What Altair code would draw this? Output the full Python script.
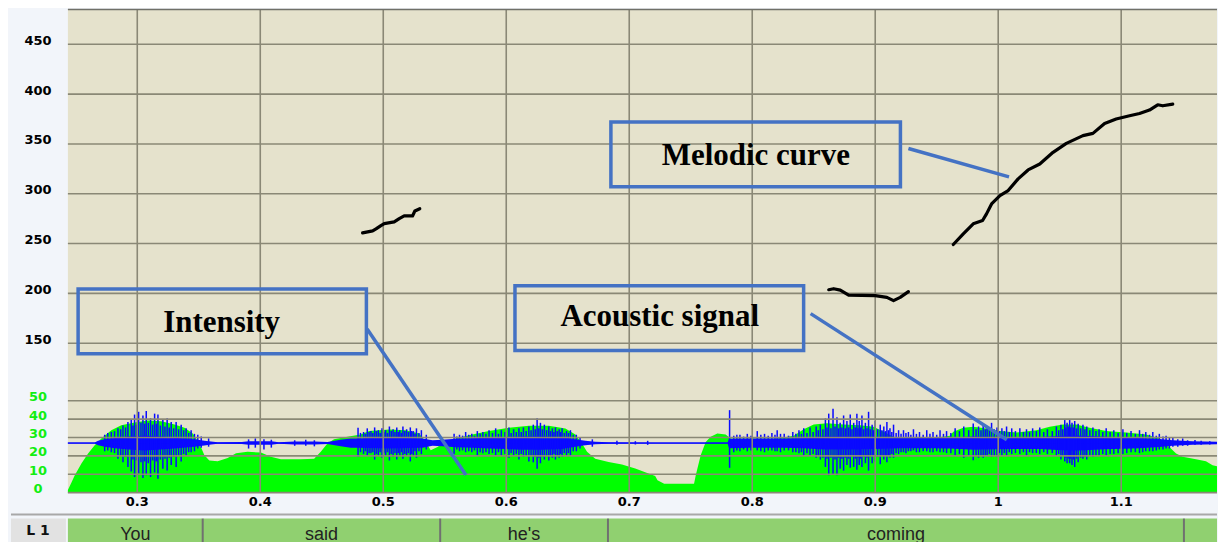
import altair as alt
import pandas as pd

# ---------------- data ----------------
x_ticks = [0.3, 0.4, 0.5, 0.6, 0.7, 0.8, 0.9, 1.0, 1.1]
x_tick_labels = ["0.3", "0.4", "0.5", "0.6", "0.7", "0.8", "0.9", "1", "1.1"]
pitch_ticks = [150, 200, 250, 300, 350, 400, 450]
int_ticks = [0, 10, 20, 30, 40, 50]

# melodic (pitch) curve, three voiced segments (time s, Hz)
pitch1_t = [0.4832, 0.4914, 0.4941, 0.4981, 0.5008, 0.5089, 0.5130, 0.5170, 0.5238, 0.5257, 0.5297]
pitch1_f = [260.7, 262.7, 264.7, 268.0, 270.0, 271.7, 275.0, 277.7, 277.7, 282.7, 285.0]
pitch2_t = [0.8622, 0.8662, 0.8716, 0.8784, 0.9000, 0.9095, 0.9149, 0.9203, 0.9270]
pitch2_f = [203.7, 204.7, 203.3, 198.3, 197.7, 196.0, 192.7, 196.0, 201.7]
pitch3_t = [0.9635, 0.9716, 0.9797, 0.9873, 0.9905, 0.9946, 1.0014, 1.0081, 1.0162, 1.0243, 1.0338,
            1.0446, 1.0554, 1.0689, 1.0770, 1.0865, 1.0959, 1.1068, 1.1149, 1.1230, 1.1297, 1.1338, 1.1419]
pitch3_f = [249.1, 259.8, 269.8, 273.1, 279.8, 289.8, 298.2, 303.2, 314.9, 323.9, 329.9,
            341.6, 350.6, 358.3, 360.6, 370.6, 375.0, 378.3, 380.6, 384.0, 389.3, 388.3, 390.0]

# intensity curve (time s, dB)
intensity_t = [0.2436, 0.2465, 0.2492, 0.2546, 0.2600, 0.2654, 0.2708, 0.2789, 0.2870, 0.2978,
               0.3086, 0.3195, 0.3303, 0.3384, 0.3451, 0.3505, 0.3546, 0.3586, 0.3654, 0.3735,
               0.3803, 0.3897, 0.4005, 0.4086, 0.4168, 0.4330, 0.4438, 0.4492, 0.4546, 0.4600,
               0.4708, 0.4816, 0.4886, 0.5049, 0.5184, 0.5292, 0.5346, 0.5386, 0.5441, 0.5495,
               0.5589, 0.5724, 0.5859, 0.6022, 0.6184, 0.6346, 0.6481, 0.6562, 0.6616, 0.6657,
               0.6724, 0.6832, 0.6941, 0.7049, 0.7157, 0.7211, 0.7230, 0.7284, 0.7527, 0.7541,
               0.7581, 0.7622, 0.7662, 0.7716, 0.7784, 0.7824, 0.7986, 0.8203, 0.8338, 0.8419,
               0.8500, 0.8608, 0.8743, 0.8878, 0.8986, 0.9068, 0.9149, 0.9284, 0.9446, 0.9608,
               0.9635, 0.9716, 0.9797, 0.9905, 1.0014, 1.0149, 1.0311, 1.0419, 1.0527, 1.0635,
               1.0743, 1.0878, 1.1041, 1.1203, 1.1311, 1.1392, 1.1446, 1.1500, 1.1608, 1.1689,
               1.1743, 1.1779]
intensity_db = [1.5, 5.5, 9.5, 15.8, 21.3, 25.8, 29.5, 34.0, 36.7, 38.2,
                39.3, 38.9, 37.1, 35.3, 32.2, 26.7, 20.4, 17.5, 17.1, 18.9,
                21.5, 22.2, 21.8, 19.5, 18.2, 18.2, 18.5, 22.2, 26.7, 29.1,
                30.4, 31.6, 33.5, 34.4, 34.0, 32.2, 27.6, 23.1, 24.9, 27.1,
                29.5, 31.6, 33.5, 35.3, 36.4, 36.4, 34.9, 31.6, 26.7, 22.2,
                18.5, 16.7, 15.3, 13.1, 10.4, 9.1, 6.7, 4.9, 4.9, 9.5,
                20.4, 27.6, 30.4, 32.2, 31.6, 29.5, 29.5, 29.5, 30.9, 34.5,
                37.1, 37.8, 37.1, 36.7, 35.8, 33.1, 30.4, 29.1, 29.5, 30.9,
                33.1, 35.3, 35.8, 34.9, 33.5, 32.7, 34.0, 35.8, 37.1, 37.1,
                35.3, 33.5, 32.7, 31.6, 29.5, 24.9, 21.3, 19.5, 18.2, 17.1,
                14.9, 14.4]

# acoustic signal: dense core envelope (drawn on the intensity axis, centred at 27)
signal_centre = 27.0
wave_t = [0.2436, 0.2654, 0.2681, 0.2735, 0.2816, 0.2924, 0.3059, 0.3195, 0.3330, 0.3465,
          0.3546, 0.3600, 0.3654, 0.3850, 0.3905, 0.4090, 0.4150, 0.4280, 0.4440, 0.4546,
          0.4654, 0.4735, 0.4778, 0.5049, 0.5319, 0.5400, 0.5481, 0.5589, 0.5724, 0.5859,
          0.5995, 0.6130, 0.6292, 0.6454, 0.6562, 0.6643, 0.6724, 0.6832, 0.7211, 0.7800,
          0.7811, 0.7986, 0.8257, 0.8419, 0.8581, 0.8797, 0.9014, 0.9203, 0.9473, 0.9608,
          0.9797, 1.0068, 1.0338, 1.0554, 1.0662, 1.0878, 1.1149, 1.1311, 1.1419, 1.1581,
          1.1779]
wave_hi = [27.3, 27.3, 28.2, 29.0, 29.8, 30.5, 31.0, 30.5, 29.8, 29.0,
           28.3, 27.8, 27.4, 27.5, 28.0, 28.0, 27.4, 27.8, 27.8, 27.5,
           28.8, 29.5, 29.5, 30.0, 29.5, 28.5, 28.8, 29.3, 29.6, 30.0,
           30.3, 30.6, 30.6, 30.2, 29.0, 28.2, 27.7, 27.4, 27.3, 27.3,
           29.3, 29.5, 29.5, 29.8, 30.5, 30.5, 30.2, 29.8, 29.8, 30.0,
           30.6, 30.3, 30.3, 31.0, 31.0, 30.4, 29.8, 29.2, 28.5, 28.0,
           27.7]
wave_lo = [26.7, 26.7, 25.8, 25.0, 24.2, 23.5, 23.0, 23.5, 24.2, 25.0,
           25.7, 26.2, 26.6, 26.5, 26.0, 26.0, 26.6, 26.2, 26.2, 26.5,
           25.2, 24.5, 24.5, 24.0, 24.5, 25.5, 25.2, 24.7, 24.4, 24.0,
           23.7, 23.4, 23.4, 23.8, 25.0, 25.8, 26.3, 26.6, 26.7, 26.7,
           24.2, 24.5, 24.5, 24.2, 23.5, 23.5, 23.8, 24.2, 24.2, 24.0,
           23.4, 23.7, 23.7, 23.0, 23.0, 23.6, 24.2, 24.8, 25.5, 26.0,
           26.3]

# acoustic signal: individual peaks (time, top, bottom)
spike_t = [0.2735, 0.2789, 0.2843, 0.2884, 0.2924, 0.2951, 0.2978, 0.3011, 0.3046, 0.3073,
           0.3108, 0.3141, 0.3168, 0.3208, 0.3243, 0.3276, 0.3316, 0.3357, 0.3397, 0.3438,
           0.3492, 0.3580, 0.3905, 0.3960, 0.4030, 0.4090, 0.4280, 0.4370, 0.4440,
           0.4795, 0.4840, 0.4870, 0.4900, 0.4930, 0.4960, 0.4990, 0.5020, 0.5050, 0.5080,
           0.5110, 0.5135, 0.5160, 0.5190, 0.5220, 0.5245, 0.5270, 0.5310, 0.5350,
           0.5576, 0.5620, 0.5670, 0.5720, 0.5765, 0.5810, 0.5860, 0.5914, 0.5960, 0.6022,
           0.6060, 0.6103, 0.6140, 0.6184, 0.6220, 0.6251, 0.6278, 0.6310, 0.6346, 0.6375,
           0.6400, 0.6430, 0.6454, 0.6490, 0.6522, 0.6570, 0.6700, 0.6900, 0.7050, 0.7150,
           0.7816, 0.7850, 0.7900, 0.7960, 0.8041, 0.8100, 0.8160, 0.8203, 0.8260, 0.8330,
           0.8380, 0.8419, 0.8470, 0.8520, 0.8554, 0.8595, 0.8622, 0.8657, 0.8689, 0.8715,
           0.8743, 0.8770, 0.8797, 0.8825, 0.8851, 0.8870, 0.8892, 0.8920, 0.8946, 0.8975,
           0.9000, 0.9041, 0.9070, 0.9095, 0.9120, 0.9149, 0.9190, 0.9230, 0.9270, 0.9311,
           0.9360, 0.9419, 0.9470, 0.9527, 0.9580,
           0.9650, 0.9720, 0.9797, 0.9840, 0.9878, 0.9910, 0.9946, 0.9990, 1.0030, 1.0068,
           1.0110, 1.0176, 1.0230, 1.0280, 1.0338, 1.0400, 1.0473, 1.0510, 1.0541, 1.0560,
           1.0581, 1.0600, 1.0622, 1.0650, 1.0689, 1.0720, 1.0770, 1.0820, 1.0878, 1.0940,
           1.1014, 1.1080, 1.1149, 1.1200, 1.1257, 1.1310, 1.1365, 1.1420, 1.1500, 1.1600]
spike_hi = [31.5, 33.0, 35.0, 36.5, 38.5, 39.5, 42.5, 44.0, 42.0, 44.5,
            40.5, 43.0, 42.5, 39.5, 40.5, 38.5, 38.5, 37.0, 35.0, 34.0,
            31.5, 29.5, 29.0, 29.5, 29.0, 28.8, 28.5, 28.8, 28.5,
            35.3, 33.0, 35.0, 33.5, 35.5, 34.0, 35.0, 34.0, 36.0, 34.5,
            35.5, 34.0, 36.0, 34.5, 35.5, 33.5, 35.0, 34.0, 31.5,
            32.0, 31.5, 33.0, 32.0, 33.5, 33.0, 34.0, 35.0, 34.0, 35.5,
            34.5, 35.0, 35.5, 36.0, 37.0, 40.5, 38.0, 37.0, 36.0, 35.0,
            35.5, 34.5, 35.0, 33.5, 34.0, 31.5, 29.0, 28.2, 28.0, 28.2,
            44.9, 31.0, 31.5, 32.0, 33.5, 32.0, 32.5, 34.0, 32.0, 33.0,
            34.0, 35.0, 35.5, 36.0, 37.0, 40.4, 43.0, 45.6, 41.0, 38.0,
            42.0, 39.0, 42.5, 38.0, 43.0, 39.0, 42.0, 38.0, 44.0, 37.0,
            39.0, 37.0, 36.0, 38.5, 35.0, 37.0, 34.0, 34.0, 33.0, 34.5,
            33.0, 34.0, 33.0, 34.0, 33.5,
            35.0, 36.0, 37.6, 36.0, 37.0, 36.0, 38.0, 35.5, 35.0, 36.0,
            35.0, 35.0, 34.5, 35.0, 35.5, 34.5, 36.0, 37.0, 39.5, 38.0,
            39.5, 38.0, 39.0, 37.5, 37.0, 36.0, 35.5, 34.5, 35.0, 34.0,
            34.5, 33.5, 34.0, 33.0, 33.0, 32.0, 31.0, 30.0, 29.5, 28.6]
spike_lo = [22.5, 22.0, 18.5, 16.5, 14.0, 11.5, 8.5, 10.5, 8.0, 9.5,
            8.5, 11.0, 7.6, 13.0, 12.0, 15.0, 14.0, 17.0, 20.0, 22.0,
            24.0, 25.0, 24.0, 24.5, 23.5, 24.5, 25.5, 25.5, 25.2,
            19.5, 21.0, 20.0, 21.5, 18.0, 20.0, 19.0, 20.5, 17.5, 19.5,
            18.0, 20.0, 18.5, 20.0, 17.0, 20.5, 19.0, 21.0, 23.5,
            21.0, 22.5, 22.0, 22.0, 20.0, 21.5, 21.0, 20.5, 20.0, 19.0,
            20.0, 18.0, 19.5, 17.0, 16.5, 13.0, 16.0, 18.0, 17.5, 19.0,
            18.0, 19.0, 19.5, 20.5, 20.0, 22.5, 25.0, 26.0, 26.2, 26.0,
            13.5, 22.0, 22.5, 22.5, 23.0, 22.0, 23.0, 22.5, 23.0, 22.0,
            21.5, 20.0, 20.5, 19.0, 18.0, 14.0, 9.5, 10.0, 9.5, 13.0,
            12.0, 15.0, 13.5, 14.0, 12.5, 15.0, 14.0, 16.0, 12.0, 16.0,
            17.0, 15.5, 18.0, 16.5, 19.0, 19.0, 21.0, 22.0, 22.5, 23.0,
            22.0, 22.5, 22.0, 22.0, 21.5,
            20.0, 19.0, 17.6, 19.0, 19.0, 20.0, 19.5, 19.5, 20.5, 20.0,
            21.0, 21.0, 20.5, 21.5, 21.0, 21.0, 20.0, 18.0, 17.0, 16.0,
            16.0, 15.0, 14.0, 16.5, 18.5, 18.0, 19.5, 20.0, 20.5, 21.0,
            21.0, 22.0, 21.5, 22.5, 22.5, 23.5, 24.0, 25.0, 25.5, 26.0]

# smaller peaks between the main ones (time, top, bottom)
minor_t = [0.2760, 0.2815, 0.2865, 0.2905, 0.2965, 0.2995, 0.3030, 0.3060, 0.3090, 0.3125,
           0.3155, 0.3188, 0.3225, 0.3260, 0.3296, 0.3336, 0.3377, 0.3418, 0.3465, 0.3520,
           0.4815, 0.4855, 0.4885, 0.4915, 0.4945, 0.4975, 0.5005, 0.5035, 0.5065, 0.5095,
           0.5122, 0.5148, 0.5175, 0.5205, 0.5232, 0.5258, 0.5290,
           0.5598, 0.5645, 0.5695, 0.5742, 0.5788, 0.5835, 0.5888, 0.5937, 0.5990, 0.6040,
           0.6082, 0.6122, 0.6162, 0.6202, 0.6236, 0.6265, 0.6294, 0.6328, 0.6360, 0.6388,
           0.6415, 0.6442, 0.6472, 0.6506, 0.6545, 0.6600,
           0.7875, 0.7930, 0.7990, 0.8070, 0.8130, 0.8185, 0.8230, 0.8295, 0.8355, 0.8400,
           0.8445, 0.8495, 0.8537, 0.8575, 0.8608, 0.8640, 0.8673, 0.8702, 0.8729, 0.8757,
           0.8784, 0.8811, 0.8838, 0.8860, 0.8881, 0.8906, 0.8933, 0.8960, 0.8988, 0.9020,
           0.9055, 0.9083, 0.9108, 0.9135, 0.9170, 0.9210, 0.9250, 0.9290, 0.9335, 0.9390,
           0.9445, 0.9500, 0.9555, 0.9615,
           0.9685, 0.9760, 0.9820, 0.9860, 0.9895, 0.9928, 0.9968, 1.0010, 1.0050, 1.0090,
           1.0140, 1.0205, 1.0255, 1.0310, 1.0370, 1.0440, 1.0492, 1.0525, 1.0550, 1.0570,
           1.0590, 1.0611, 1.0636, 1.0670, 1.0705, 1.0745, 1.0795, 1.0850, 1.0910, 1.0975,
           1.1045, 1.1115, 1.1175, 1.1230, 1.1285, 1.1340, 1.1392, 1.1460, 1.1540, 1.1650,
           1.1720]
minor_hi = [32.5, 33.5, 34.5, 35.5, 36.5, 37.0, 38.0, 37.5, 38.0, 37.0,
            37.5, 36.5, 36.0, 35.5, 35.0, 34.5, 34.0, 32.5, 32.0, 30.5,
            32.5, 32.0, 33.0, 32.5, 33.5, 32.5, 33.0, 32.5, 33.5, 33.0,
            33.0, 32.5, 33.5, 33.0, 33.5, 32.0, 32.5,
            30.5, 31.0, 31.5, 31.0, 32.0, 32.0, 32.5, 32.0, 33.0, 32.5,
            33.0, 33.0, 33.5, 34.0, 34.5, 35.0, 34.5, 34.0, 33.5, 33.0,
            33.5, 33.0, 32.5, 32.5, 31.5, 30.0,
            31.5, 30.5, 31.0, 31.5, 31.0, 31.5, 32.0, 31.0, 32.0, 32.0,
            32.5, 33.0, 34.0, 34.5, 35.5, 35.0, 36.0, 35.0, 35.5, 35.0,
            35.5, 34.5, 35.5, 35.0, 35.5, 34.5, 35.0, 34.5, 34.0, 34.5,
            34.0, 33.5, 34.0, 33.0, 32.5, 32.0, 32.5, 31.5, 32.0, 31.5,
            32.0, 31.5, 32.0, 32.5,
            33.5, 34.0, 34.5, 34.0, 34.5, 34.0, 34.5, 33.5, 33.5, 33.0,
            33.5, 33.0, 33.0, 33.5, 33.0, 33.5, 34.0, 34.5, 35.5, 36.0,
            35.5, 35.5, 35.0, 35.0, 34.5, 34.0, 33.5, 33.0, 33.0, 32.5,
            32.5, 32.0, 32.0, 31.5, 31.0, 30.5, 30.0, 29.0, 28.5, 28.2,
            28.0]
minor_lo = [23.0, 21.5, 20.5, 19.5, 18.0, 17.5, 16.5, 17.0, 16.0, 17.5,
            17.0, 18.0, 18.5, 19.0, 19.5, 20.0, 21.0, 22.0, 22.5, 24.5,
            22.0, 22.5, 21.5, 22.0, 21.0, 22.0, 21.5, 22.0, 21.0, 21.5,
            21.5, 22.0, 21.0, 21.5, 21.0, 22.5, 22.5,
            23.5, 23.0, 22.5, 23.0, 22.0, 22.0, 21.5, 22.0, 21.0, 21.5,
            21.0, 21.0, 20.5, 20.0, 19.5, 19.0, 19.5, 20.0, 20.5, 21.0,
            20.5, 21.0, 21.5, 21.5, 22.5, 24.0,
            23.0, 23.5, 23.0, 22.5, 23.0, 22.5, 22.0, 23.0, 22.0, 22.0,
            21.5, 21.0, 20.0, 19.0, 18.5, 19.0, 18.0, 19.0, 18.5, 19.0,
            18.5, 19.5, 18.5, 19.0, 18.5, 19.5, 19.0, 19.5, 20.0, 19.5,
            20.0, 20.5, 20.0, 21.0, 21.5, 22.0, 21.5, 22.5, 22.0, 22.5,
            22.0, 22.5, 22.0, 21.5,
            21.0, 20.5, 20.0, 20.5, 20.0, 21.0, 20.5, 21.5, 21.5, 22.0,
            21.5, 22.0, 22.0, 21.5, 22.0, 21.5, 21.0, 20.5, 19.0, 18.5,
            18.5, 18.0, 18.5, 19.0, 19.5, 20.0, 20.5, 21.0, 21.0, 21.5,
            21.5, 22.0, 22.0, 22.5, 23.0, 23.5, 24.0, 25.0, 25.5, 26.0,
            26.2]

# annotations (time s, Hz)
box_label = ["Melodic curve", "Intensity", "Acoustic signal"]
box_t1 = [0.6851, 0.2519, 0.6071]
box_t2 = [0.9205, 0.4863, 0.8418]
box_f1 = [372.0, 204.4, 207.7]
box_f2 = [307.0, 139.4, 142.7]
label_t = [0.8029, 0.3686, 0.7248]
label_f = [328.7, 161.0, 167.5]
arrow_t1 = [0.9270, 0.4869, 0.8475]
arrow_f1 = [345.4, 164.3, 179.7]
arrow_t2 = [1.0088, 0.5672, 1.0070]
arrow_f2 = [317.0, 17.7, 53.0]

# annotation tier (words)
tier_words = ["You", "said", "he's", "coming", ""]
tier_start = [0.2436, 0.3532, 0.5463, 0.6827, 1.1510]
tier_end = [0.3532, 0.5463, 0.6827, 1.1510, 1.1779]

# ---------------- frames ----------------
pitch_df = pd.concat([
    pd.DataFrame({"t": pitch1_t, "f": pitch1_f, "seg": "a"}),
    pd.DataFrame({"t": pitch2_t, "f": pitch2_f, "seg": "b"}),
    pd.DataFrame({"t": pitch3_t, "f": pitch3_f, "seg": "c"}),
])
int_df = pd.DataFrame({"t": intensity_t, "db": intensity_db})
wave_df = pd.DataFrame({"t": wave_t, "hi": wave_hi, "lo": wave_lo})
spike_df = pd.concat([
    pd.DataFrame({"t": spike_t, "hi": spike_hi, "lo": spike_lo}),
    pd.DataFrame({"t": minor_t, "hi": minor_hi, "lo": minor_lo}),
])
box_df = pd.DataFrame({"label": box_label, "t1": box_t1, "t2": box_t2, "f1": box_f1, "f2": box_f2,
                       "lt": label_t, "lf": label_f,
                       "at1": arrow_t1, "af1": arrow_f1, "at2": arrow_t2, "af2": arrow_f2})
tier_df = pd.DataFrame({"word": tier_words, "start": tier_start, "end": tier_end})
tier_df["mid"] = (tier_df["start"] + tier_df["end"]) / 2
xgrid_df = pd.DataFrame({"t": x_ticks, "lab": x_tick_labels})
pgrid_df = pd.DataFrame({"f": pitch_ticks})
igrid_df = pd.DataFrame({"db": int_ticks})
centre_df = pd.DataFrame({"db": [signal_centre]})
one_df = pd.DataFrame({"a": [0]})

# ---------------- styling ----------------
W, H = 1151, 484
BG_PLOT = "#e5e2cc"
GRID = "#8a8876"
BLUE_ANN = "#4472c4"
WAVE = "#0a0aff"
GREEN = "#00ff00"
LABEL_FONT = "DejaVu Sans"
LABEL_SIZE = 13

xs = alt.Scale(domain=[0.2436, 1.1779], nice=False, zero=False)
ys_int = alt.Scale(domain=[0, 263], nice=False, zero=False)
ys_pitch = alt.Scale(domain=[0, 485], nice=False, zero=False)

int_axis = alt.Axis(values=int_ticks, orient="left", labelFont=LABEL_FONT, labelFontWeight="bold",
                    labelFontSize=LABEL_SIZE, labelColor="#12ee12", labelAlign="center",
                    labelBaseline="alphabetic", labelPadding=30.5, ticks=False, tickSize=0,
                    domain=False, grid=False, title=None, labelOverlap=False)
pitch_axis = alt.Axis(values=pitch_ticks, orient="left", labelFont=LABEL_FONT, labelFontWeight="bold",
                      labelFontSize=LABEL_SIZE, labelColor="black", labelAlign="center",
                      labelBaseline="alphabetic", labelPadding=30.5, ticks=False, tickSize=0,
                      domain=False, grid=False, title=None, labelOverlap=False)

# ---- intensity layers ----
green = alt.Chart(int_df).mark_area(color=GREEN, interpolate="linear").encode(
    x=alt.X("t:Q", scale=xs, axis=None),
    y=alt.Y("db:Q", scale=ys_int, axis=int_axis),
)
wave_core = alt.Chart(wave_df).mark_area(color=WAVE).encode(
    x=alt.X("t:Q", scale=xs, axis=None),
    y=alt.Y("hi:Q", scale=ys_int, axis=None),
    y2="lo:Q",
)
centre_line = alt.Chart(centre_df).mark_rule(color=WAVE, strokeWidth=1.2).encode(
    y=alt.Y("db:Q", scale=ys_int, axis=None),
)
spikes = alt.Chart(spike_df).mark_rule(color=WAVE, strokeWidth=1.5).encode(
    x=alt.X("t:Q", scale=xs, axis=None),
    y=alt.Y("hi:Q", scale=ys_int, axis=None),
    y2="lo:Q",
)
igrid = alt.Chart(igrid_df).mark_rule(color=GRID, strokeWidth=1.6).encode(
    y=alt.Y("db:Q", scale=ys_int, axis=None),
)
xgrid = alt.Chart(xgrid_df).mark_rule(color=GRID, strokeWidth=1.6).encode(
    x=alt.X("t:Q", scale=xs, axis=None),
)
xlabels = alt.Chart(xgrid_df).mark_text(font=LABEL_FONT, fontWeight="bold", fontSize=LABEL_SIZE,
                                        color="black", baseline="top", align="center").encode(
    x=alt.X("t:Q", scale=xs, axis=None),
    y=alt.value(H + 3),
    text="lab:N",
)

# ---- pitch layers ----
pgrid = alt.Chart(pgrid_df).mark_rule(color=GRID, strokeWidth=1.6).encode(
    y=alt.Y("f:Q", scale=ys_pitch, axis=pitch_axis),
)
top_border = alt.Chart(one_df).mark_rule(color="#707068", strokeWidth=1.6).encode(
    y=alt.value(0),
)
pitch_line = alt.Chart(pitch_df).mark_line(color="black", strokeWidth=3.2, strokeCap="round",
                                           strokeJoin="round").encode(
    x=alt.X("t:Q", scale=xs, axis=None),
    y=alt.Y("f:Q", scale=ys_pitch, axis=None),
    detail="seg:N",
)
boxes = alt.Chart(box_df).mark_rect(fillOpacity=0, stroke=BLUE_ANN, strokeWidth=3.5).encode(
    x=alt.X("t1:Q", scale=xs, axis=None), x2="t2:Q",
    y=alt.Y("f1:Q", scale=ys_pitch, axis=None), y2="f2:Q",
)
arrows = alt.Chart(box_df).mark_rule(color=BLUE_ANN, strokeWidth=3.5).encode(
    x=alt.X("at1:Q", scale=xs, axis=None), x2="at2:Q",
    y=alt.Y("af1:Q", scale=ys_pitch, axis=None), y2="af2:Q",
)
labels = alt.Chart(box_df).mark_text(font="Liberation Serif", fontWeight="bold", fontSize=31,
                                     color="black", baseline="alphabetic", align="center").encode(
    x=alt.X("lt:Q", scale=xs, axis=None),
    y=alt.Y("lf:Q", scale=ys_pitch, axis=None),
    text="label:N",
)

main = alt.layer(
    green, wave_core, centre_line, spikes, igrid, xgrid, xlabels,
    pgrid, top_border, pitch_line, boxes, arrows, labels,
).resolve_scale(y="independent").properties(
    width=W, height=H, view=alt.ViewBackground(fill=BG_PLOT, strokeWidth=0)
)

# ---- tier ----
TH = 24
cells = alt.Chart(tier_df).mark_rect(color="#90d070").encode(
    x=alt.X("start:Q", scale=xs, axis=None), x2="end:Q",
    y=alt.value(0), y2=alt.value(TH),
)
seps = alt.Chart(tier_df.iloc[:4]).mark_rule(color="#707070", strokeWidth=2).encode(
    x=alt.X("end:Q", scale=xs, axis=None),
)
words = alt.Chart(tier_df).mark_text(font="Liberation Sans", fontSize=18, color="#222222",
                                     baseline="alphabetic", align="center").encode(
    x=alt.X("mid:Q", scale=xs, axis=None),
    y=alt.value(21),
    text="word:N",
)
l1_cell = alt.Chart(one_df).mark_rect(color="#e2e2e2").encode(
    x=alt.value(-57), x2=alt.value(-2), y=alt.value(0), y2=alt.value(TH),
)
l1_text = alt.Chart(one_df).mark_text(text="L 1", font=LABEL_FONT, fontWeight="bold", fontSize=14,
                                      color="#111111", baseline="middle", align="center").encode(
    x=alt.value(-30), y=alt.value(12),
)
sep_line = alt.Chart(one_df).mark_rule(color="#a8a8a8", strokeWidth=2).encode(
    x=alt.value(-57), x2=alt.value(W), y=alt.value(-4),
)
tier = alt.layer(sep_line, cells, seps, words, l1_cell, l1_text).properties(
    width=W, height=TH, view=alt.ViewBackground(strokeWidth=0)
)

chart = alt.vconcat(main, tier, spacing=5).properties(
    background="#f2f5fa",
    padding={"left": 2, "top": 0, "right": 0, "bottom": 0},
).configure_view(strokeWidth=0)

chart.save("out.html", embed_options={"renderer": "svg", "actions": False})
